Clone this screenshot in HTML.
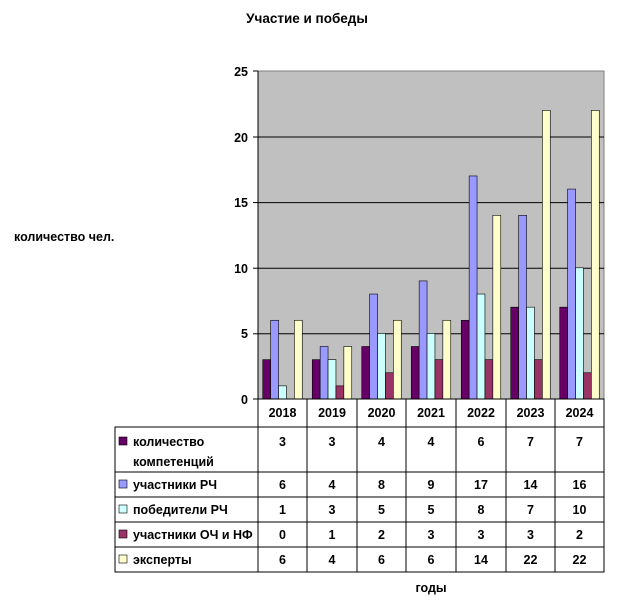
<!DOCTYPE html>
<html><head><meta charset="utf-8"><style>body{margin:0;background:#fff}</style></head><body>
<svg width="623" height="601" xmlns="http://www.w3.org/2000/svg" font-family="Liberation Sans, sans-serif" font-weight="bold" font-size="12.5">
<text x="307" y="23" text-anchor="middle" font-size="13.5">Участие и победы</text>
<text x="14" y="241">количество чел.</text>
<text x="431" y="592" text-anchor="middle">годы</text>
<rect x="258" y="71" width="346" height="328" fill="#c0c0c0" stroke="#808080"/>
<g stroke="#000" stroke-width="1">
<line x1="258" y1="137" x2="604" y2="137"/><line x1="258" y1="202.6" x2="604" y2="202.6"/><line x1="258" y1="268.2" x2="604" y2="268.2"/><line x1="258" y1="333.8" x2="604" y2="333.8"/>
<line x1="258" y1="71" x2="258" y2="399"/>
<line x1="253" y1="71" x2="258" y2="71"/><line x1="253" y1="137" x2="258" y2="137"/><line x1="253" y1="202.6" x2="258" y2="202.6"/><line x1="253" y1="268.2" x2="258" y2="268.2"/><line x1="253" y1="333.8" x2="258" y2="333.8"/><line x1="253" y1="399" x2="258" y2="399"/>
</g>
<g text-anchor="end">
<text x="248" y="76">25</text><text x="248" y="142">20</text><text x="248" y="207">15</text><text x="248" y="273">10</text><text x="248" y="338">5</text><text x="248" y="404">0</text>
</g>
<g id="bars" stroke="#000" stroke-width="0.6"></g>
<g stroke="#000" stroke-width="1" fill="none">
<rect x="258" y="399" width="346" height="173"/>
<rect x="115" y="427" width="489" height="145"/>
<line x1="115" y1="472" x2="604" y2="472"/><line x1="115" y1="497" x2="604" y2="497"/><line x1="115" y1="522" x2="604" y2="522"/><line x1="115" y1="547" x2="604" y2="547"/>
<line x1="307" y1="399" x2="307" y2="572"/><line x1="357" y1="399" x2="357" y2="572"/><line x1="406" y1="399" x2="406" y2="572"/><line x1="456" y1="399" x2="456" y2="572"/><line x1="506" y1="399" x2="506" y2="572"/><line x1="555" y1="399" x2="555" y2="572"/>
</g>
<g id="tbl"></g>
<g id="leg" stroke="#000" stroke-width="0.6"></g>
</svg>
<script>
var d=[[3,3,4,4,6,7,7],[6,4,8,9,17,14,16],[1,3,5,5,8,7,10],[0,1,2,3,3,3,2],[6,4,6,6,14,22,22]];
var c=["#660066","#9999ff","#ccffff","#993366","#ffffcc"];
var names=["количество","участники РЧ","победители РЧ","участники ОЧ и НФ","эксперты"];
var cols=[258,307,357,406,456,506,555,604];
var rows=[427,472,497,522,547,572];
var ns="http://www.w3.org/2000/svg",b=document.getElementById("bars"),t=document.getElementById("tbl"),l=document.getElementById("leg");
function el(p,n,a,tx){var e=document.createElementNS(ns,n);for(var k in a)e.setAttribute(k,a[k]);if(tx)e.textContent=tx;p.appendChild(e);}
for(var i=0;i<7;i++){var gx=cols[i]+(cols[i+1]-cols[i]-39.5)/2;
 el(t,"text",{x:(cols[i]+cols[i+1])/2,y:417,"text-anchor":"middle"},String(2018+i));
 for(var s=0;s<5;s++){var v=d[s][i],h=v*13.12;
  if(v>0)el(b,"rect",{x:gx+s*7.9,y:399-h,width:7.9,height:h,fill:c[s]});
  var ry=s==0?446:rows[s]+17;
  el(t,"text",{x:(cols[i]+cols[i+1])/2,y:ry,"text-anchor":"middle"},String(v));}}
for(var s=0;s<5;s++){var ry=s==0?446:rows[s]+17;
 el(l,"rect",{x:119,y:ry-9,width:8,height:8,fill:c[s]});
 el(t,"text",{x:133,y:ry},names[s]);}
el(t,"text",{x:133,y:466},"компетенций");
</script>
</body></html>
